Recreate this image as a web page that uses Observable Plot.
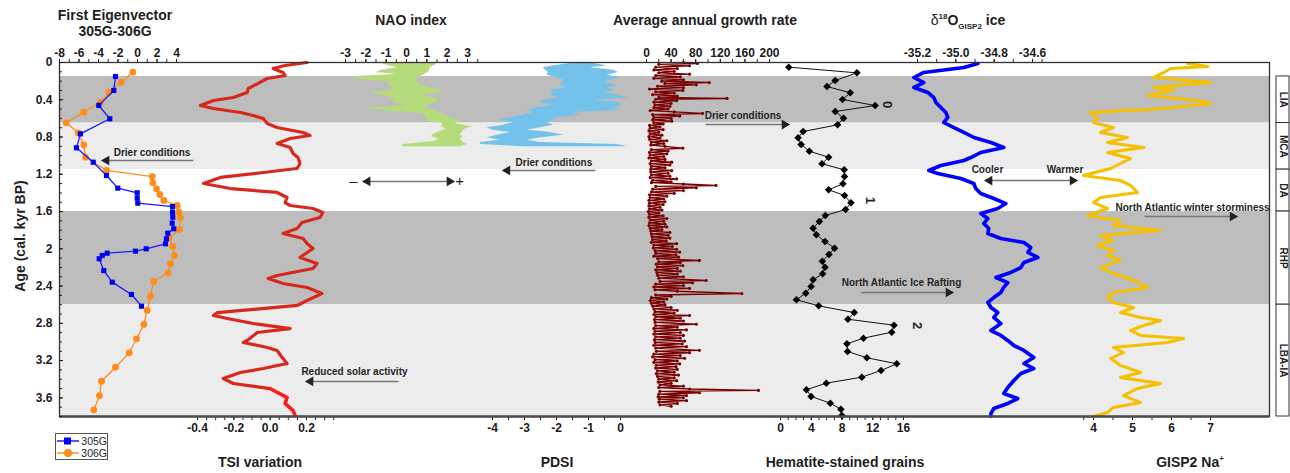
<!DOCTYPE html>
<html lang="en">
<head>
<meta charset="utf-8">
<title>Proxy records, 0–3.8 cal. kyr BP</title>
<script src="https://cdn.jsdelivr.net/npm/d3@7"></script>
<script src="https://cdn.jsdelivr.net/npm/@observablehq/plot@0.6"></script>
<style>
  html, body { margin: 0; background: #fff; }
  #stage { position: relative; width: 1290px; height: 473px; overflow: hidden;
           font-family: "Liberation Sans", Arial, sans-serif; color: #1e1e1e; }
  #stage > svg { position: absolute; left: 0; top: 0; }
  .ttl { position: absolute; transform: translate(-50%, -50%); font-weight: bold; font-size: 14px;
         line-height: 16px; white-space: nowrap; text-align: center; }
  .ttl sup, .ttl sub { font-size: 8px; line-height: 0; }
  .ttl .reg { font-weight: normal; }
  #ylab { position: absolute; left: 20px; top: 236px; transform: translate(-50%, -50%) rotate(-90deg);
          font-weight: bold; font-size: 14px; white-space: nowrap; }
  #legend { position: absolute; left: 55px; top: 433px; width: 53px; height: 27px; border: 1px solid #555;
            box-sizing: border-box; font-size: 10.5px; padding-top: 1px; }
  #legend div { display: flex; align-items: center; height: 12px; }
  #legend svg { margin-right: 2px; }
</style>
</head>
<body>
<div id="stage">
  <div class="ttl" style="left:115px;top:23px">First Eigenvector<br>305G-306G</div>
  <div class="ttl" style="left:411px;top:20px">NAO index</div>
  <div class="ttl" style="left:705px;top:20px">Average annual growth rate</div>
  <div class="ttl" style="left:968px;top:20px"><span class="reg">δ</span><sup>18</sup>O<sub>GISP2</sub> ice</div>
  <div class="ttl" style="left:260px;top:462px">TSI variation</div>
  <div class="ttl" style="left:557px;top:462px">PDSI</div>
  <div class="ttl" style="left:845px;top:462px">Hematite-stained grains</div>
  <div class="ttl" style="left:1190px;top:462px">GISP2 Na<sup>+</sup></div>
  <div id="ylab">Age (cal. kyr BP)</div>
  <div id="legend">
    <div><svg width="24" height="10"><line x1="1" y1="5" x2="23" y2="5" stroke="#1a1aff" stroke-width="1.5"/><rect x="8" y="1.5" width="7" height="7" fill="#0000ee"/></svg><span>305G</span></div>
    <div><svg width="24" height="10"><line x1="1" y1="5" x2="23" y2="5" stroke="#ff8c1a" stroke-width="1.5"/><circle cx="12" cy="5" r="4" fill="#ff8c1a"/></svg><span>306G</span></div>
  </div>
</div>
<script>
// ---------- climate periods ----------
const periodName  = ["LIA", "MCA", "DA", "RHP", "LBA-IA"];
const periodStart = [0.15, 0.65, 1.15, 1.6, 2.6];
const periodEnd   = [0.65, 1.15, 1.6, 2.6, 3.8];

// ---------- first eigenvector, cores 305G and 306G ----------
const e305Age   = [0.15, 0.30, 0.46, 0.604, 0.766, 0.916, 1.070, 1.213, 1.349, 1.399, 1.456, 1.510, 1.546, 1.607, 1.660, 1.725, 1.785, 1.832, 1.893, 1.946, 2.0, 2.025, 2.047, 2.072, 2.107, 2.233, 2.358, 2.490, 2.616];
const e305Value = [-2.26, -2.43, -3.97, -2.84, -5.85, -6.26, -4.54, -3.18, -2.02, -0.03, -0.03, 0.03, 3.59, 3.59, 3.62, 3.56, 3.72, 3.11, 2.97, 2.87, 0.89, -0.21, -3.11, -3.62, -3.93, -3.46, -2.59, -0.62, 0.41];
const e306Age   = [0.104, 0.211, 0.319, 0.426, 0.533, 0.648, 0.755, 0.884, 1.016, 1.159, 1.224, 1.292, 1.356, 1.417, 1.481, 1.535, 1.607, 1.667, 1.793, 1.886, 1.975, 2.072, 2.161, 2.258, 2.351, 2.508, 2.662, 2.812, 2.966, 3.116, 3.271, 3.421, 3.575, 3.728];
const e306Value = [-0.48, -1.67, -2.94, -3.79, -5.51, -7.31, -6.08, -5.51, -5.33, -3.18, 1.51, 1.57, 1.95, 2.29, 2.7, 4.07, 4.24, 4.41, 4.31, 3.21, 3.62, 3.79, 3.38, 3.15, 1.67, 1.33, 0.99, 0.65, -0.1, -0.85, -2.26, -3.69, -3.9, -4.48];

// ---------- total solar irradiance variation ----------
const tsiAge   = [0, 0.032, 0.064, 0.107, 0.14, 0.172, 0.225, 0.279, 0.322, 0.376, 0.408, 0.462, 0.494, 0.537, 0.569, 0.601, 0.655, 0.698, 0.751, 0.784, 0.816, 0.869, 0.912, 0.977, 1.02, 1.084, 1.138, 1.181, 1.234, 1.299, 1.353, 1.395, 1.449, 1.503, 1.535, 1.567, 1.61, 1.664, 1.718, 1.782, 1.836, 1.889, 1.943, 1.997, 2.093, 2.158, 2.211, 2.286, 2.319, 2.372, 2.415, 2.48, 2.555, 2.608, 2.684, 2.716, 2.748, 2.802, 2.856, 2.898, 2.984, 3.006, 3.059, 3.091, 3.167, 3.231, 3.285, 3.328, 3.392, 3.446, 3.5, 3.596, 3.66, 3.735, 3.789];
const tsiValue = [0.203, 0.082, 0.016, 0.071, 0.082, -0.016, -0.066, -0.121, -0.126, -0.203, -0.312, -0.384, -0.312, -0.164, -0.093, -0.038, -0.016, 0.038, 0.181, 0.219, 0.11, 0.038, 0.11, 0.126, 0.153, 0.164, 0.148, -0.038, -0.274, -0.367, -0.219, 0.038, 0.093, 0.082, 0.11, 0.236, 0.29, 0.274, 0.175, 0.148, 0.071, 0.181, 0.203, 0.236, 0.164, 0.258, 0.236, 0.038, -0.011, 0.071, 0.203, 0.285, 0.203, 0.148, -0.29, -0.312, -0.236, -0.093, 0.11, -0.071, -0.126, -0.148, -0.016, 0.038, 0.066, 0.093, -0.038, -0.164, -0.258, -0.203, 0, 0.093, 0.082, 0.126, 0.137];

// ---------- NAO index reconstruction (range) ----------
const naoAge  = [0, 0.029, 0.057, 0.083, 0.107, 0.129, 0.154, 0.179, 0.207, 0.236, 0.272, 0.297, 0.322, 0.351, 0.379, 0.405, 0.429, 0.458, 0.494, 0.523, 0.547, 0.572, 0.601, 0.63, 0.655, 0.69, 0.716, 0.744, 0.773, 0.798, 0.823, 0.851, 0.88, 0.905];
const naoLow  = [-1.32, -0.99, -0.43, -1.23, -1.47, -0.49, -2.70, -2.30, -0.82, -0.92, -0.67, -0.82, -1.81, -1.17, -0.74, -0.58, -0.67, 0, -2.03, -0.82, 0.80, 0.90, 0.98, 1.05, 1.79, 1.72, 1.95, 1.64, 1.30, 1.23, 1.64, 1.30, -0.18, -0.18];
const naoHigh = [1.49, 1.40, 1.15, 1.15, 1.05, 0.90, 0.65, 0.49, 0.55, 0.65, 1.23, 1.72, 1.64, 0.80, 1.29, 1.64, 1.49, 1.05, 0.98, 1.54, 1.78, 1.95, 2.18, 2.77, 2.36, 3.20, 2.86, 2.77, 2.63, 2.77, 2.63, 2.77, 3.02, 2.63];

// ---------- Palmer drought severity index (range) ----------
const pdsiAge  = [0, 0.011, 0.035, 0.057, 0.083, 0.107, 0.136, 0.164, 0.19, 0.215, 0.244, 0.272, 0.297, 0.322, 0.351, 0.379, 0.405, 0.429, 0.458, 0.486, 0.512, 0.537, 0.566, 0.594, 0.619, 0.644, 0.673, 0.701, 0.727, 0.751, 0.78, 0.808, 0.834, 0.859, 0.88, 0.905];
const pdsiLow  = [-1.35, -1.56, -2.09, -2.42, -2.34, -2.25, -2.29, -1.98, -1.78, -1.82, -1.88, -1.67, -2.19, -2.09, -2.19, -1.88, -2.41, -2.5, -2.09, -2.6, -2.92, -2.72, -3.03, -3.44, -3.85, -3.34, -3.66, -4.17, -3.97, -3.44, -3.85, -4.17, -3.75, -4.38, -4.38, -2.92];
const pdsiHigh = [-0.52, -0.84, -0.42, -0.94, -0.22, -0.06, -0.42, 0, -0.31, -0.52, -0.10, -0.42, -0.16, -0.52, -0.10, 0.25, -0.84, -0.10, 0.05, -0.22, 0, -1.47, -1.25, -1.98, -2.09, -2.29, -2.09, -2.5, -2.92, -2.19, -1.78, -2.5, -2.92, -2.5, -0.10, 0.21];

// ---------- stalagmite average annual growth rate ----------
const growthAge = [0.0, 0.01, 0.02, 0.035, 0.05, 0.065, 0.08, 0.095, 0.11, 0.125, 0.14, 0.155, 0.17, 0.185, 0.2, 0.215, 0.225, 0.24, 0.255, 0.27, 0.285, 0.3, 0.315, 0.33, 0.345, 0.36, 0.375, 0.386, 0.395, 0.41, 0.425, 0.44, 0.455, 0.47, 0.485, 0.5, 0.515, 0.53, 0.547, 0.56, 0.575, 0.59, 0.6, 0.615, 0.63, 0.645, 0.66, 0.675, 0.69, 0.705, 0.72, 0.735, 0.75, 0.765, 0.78, 0.795, 0.81, 0.825, 0.84, 0.855, 0.87, 0.885, 0.9, 0.92, 0.935, 0.95, 0.965, 0.98, 0.995, 1.01, 1.025, 1.04, 1.055, 1.07, 1.085, 1.1, 1.115, 1.13, 1.145, 1.16, 1.175, 1.19, 1.205, 1.22, 1.235, 1.25, 1.265, 1.28, 1.29, 1.305, 1.32, 1.33, 1.345, 1.36, 1.375, 1.39, 1.405, 1.42, 1.435, 1.45, 1.465, 1.48, 1.495, 1.51, 1.525, 1.54, 1.555, 1.57, 1.585, 1.6, 1.615, 1.63, 1.645, 1.66, 1.675, 1.69, 1.705, 1.72, 1.735, 1.75, 1.765, 1.78, 1.795, 1.81, 1.825, 1.84, 1.855, 1.87, 1.885, 1.9, 1.915, 1.93, 1.945, 1.96, 1.975, 1.99, 2.005, 2.02, 2.035, 2.05, 2.065, 2.08, 2.09, 2.105, 2.125, 2.14, 2.15, 2.165, 2.18, 2.195, 2.21, 2.225, 2.24, 2.255, 2.27, 2.285, 2.3, 2.315, 2.34, 2.35, 2.365, 2.38, 2.395, 2.41, 2.425, 2.44, 2.455, 2.48, 2.495, 2.51, 2.525, 2.54, 2.555, 2.57, 2.585, 2.6, 2.615, 2.63, 2.645, 2.66, 2.675, 2.69, 2.705, 2.716, 2.73, 2.745, 2.76, 2.775, 2.79, 2.81, 2.825, 2.84, 2.855, 2.87, 2.885, 2.9, 2.915, 2.93, 2.945, 2.96, 2.975, 2.99, 3.005, 3.02, 3.035, 3.05, 3.065, 3.09, 3.1, 3.115, 3.13, 3.145, 3.16, 3.175, 3.19, 3.205, 3.22, 3.235, 3.25, 3.265, 3.28, 3.295, 3.31, 3.325, 3.34, 3.355, 3.37, 3.385, 3.4, 3.415, 3.43, 3.445, 3.46, 3.475, 3.49, 3.505, 3.52, 3.53, 3.545, 3.56, 3.575, 3.59, 3.6, 3.615, 3.63, 3.645, 3.66, 3.675, 3.69];
const growthRate = [60, 83, 20, 70, 15, 50, 12, 45, 20, 70, 15, 55, 12, 60, 25, 102, 30, 81, 18, 60, 5, 59, 15, 45, 10, 50, 20, 131, 15, 49, 12, 40, 14, 38, 12, 35, 6, 45, 91, 10, 54, 12, 40, 10, 41, 12, 27, 5, 22, 6, 27, 4, 20, 6, 25, 4, 22, 5, 33, 8, 28, 7, 30, 59, 8, 35, 5, 33, 6, 28, 4, 30, 8, 41, 6, 38, 8, 30, 7, 41, 7, 35, 8, 38, 6, 49, 10, 40, 8, 60, 113, 15, 81, 10, 60, 8, 45, 5, 33, 6, 28, 4, 30, 5, 27, 4, 22, 5, 25, 3, 20, 5, 27, 4, 33, 6, 28, 5, 30, 4, 33, 6, 25, 7, 38, 8, 35, 9, 38, 10, 32, 8, 49, 12, 42, 11, 49, 14, 54, 15, 48, 12, 52, 18, 86, 20, 55, 16, 59, 18, 50, 15, 55, 17, 50, 18, 60, 20, 97, 22, 75, 15, 60, 12, 70, 14, 50, 155, 15, 40, 8, 33, 6, 28, 8, 30, 10, 40, 12, 50, 14, 45, 12, 70, 15, 55, 13, 60, 14, 81, 15, 50, 12, 65, 14, 55, 12, 60, 15, 55, 13, 62, 14, 58, 12, 65, 15, 86, 16, 70, 12, 55, 10, 62, 14, 50, 12, 54, 16, 48, 15, 50, 18, 45, 16, 52, 18, 45, 20, 49, 19, 40, 22, 60, 20, 70, 182, 22, 86, 20, 65, 19, 60, 21, 65, 20, 50, 22, 40];

// ---------- hematite-stained grains (%) ----------
const hemAge   = [0.05, 0.111, 0.193, 0.258, 0.325, 0.397, 0.462, 0.526, 0.598, 0.669, 0.741, 0.808, 0.88, 0.952, 1.017, 1.087, 1.152, 1.224, 1.302, 1.366, 1.428, 1.506, 1.578, 1.642, 1.707, 1.779, 1.85, 1.921, 1.993, 2.061, 2.133, 2.197, 2.268, 2.333, 2.404, 2.476, 2.547, 2.612, 2.684, 2.756, 2.82, 2.895, 2.959, 3.02, 3.102, 3.17, 3.234, 3.306, 3.378, 3.442, 3.513, 3.585, 3.657, 3.722, 3.789];
const hemCount = [1.08, 9.94, 7.12, 6.05, 9.07, 8.07, 12.31, 7.12, 8.2, 7.42, 2.94, 2.29, 2.68, 3.76, 6.26, 5.4, 8.29, 8.33, 8.12, 6.26, 8.33, 9.16, 8.46, 5.83, 5.05, 4.24, 4.66, 5.79, 7.03, 6.31, 5.44, 5.79, 5.48, 4.24, 3.98, 3.28, 2.07, 4.96, 9.59, 8.77, 14.77, 14.47, 10.79, 8.64, 8.72, 11.23, 15.12, 13.08, 10.58, 5.96, 3.37, 3.98, 6.48, 7.86, 7.99];
const bondLabel = ["0", "1", "2"];
const bondAge   = [0.451, 1.481, 2.823];
const bondAt    = [13.9, 11.7, 17.8];

// ---------- GISP2 delta-18O of ice ----------
const d18Age   = [0.011, 0.054, 0.107, 0.161, 0.215, 0.268, 0.322, 0.376, 0.429, 0.483, 0.537, 0.590, 0.644, 0.698, 0.751, 0.805, 0.859, 0.912, 0.966, 1.020, 1.052, 1.106, 1.159, 1.191, 1.245, 1.299, 1.353, 1.406, 1.460, 1.514, 1.567, 1.621, 1.675, 1.728, 1.782, 1.836, 1.889, 1.932, 1.986, 2.039, 2.093, 2.147, 2.201, 2.254, 2.308, 2.362, 2.415, 2.469, 2.523, 2.576, 2.630, 2.684, 2.737, 2.802, 2.877, 2.930, 2.984, 3.038, 3.091, 3.167, 3.231, 3.285, 3.339, 3.414, 3.489, 3.553, 3.607, 3.660, 3.714, 3.768, 3.8];
const d18Value = [-34.885, -34.958, -35.167, -35.219, -35.167, -35.219, -35.146, -35.115, -35.104, -35.078, -35.052, -35.042, -35.063, -35.010, -34.958, -34.906, -34.817, -34.750, -34.870, -34.922, -34.958, -35.078, -35.141, -35.094, -34.974, -34.906, -34.896, -34.870, -34.802, -34.739, -34.781, -34.870, -34.833, -34.854, -34.828, -34.833, -34.765, -34.645, -34.609, -34.624, -34.572, -34.645, -34.661, -34.713, -34.791, -34.729, -34.750, -34.765, -34.802, -34.833, -34.817, -34.781, -34.802, -34.765, -34.817, -34.765, -34.729, -34.697, -34.645, -34.593, -34.645, -34.593, -34.661, -34.697, -34.729, -34.750, -34.677, -34.729, -34.802, -34.817, -34.817];

// ---------- GISP2 sea-salt Na+ ----------
const naAge   = [0.011, 0.043, 0.064, 0.107, 0.161, 0.215, 0.268, 0.301, 0.354, 0.408, 0.440, 0.494, 0.537, 0.590, 0.644, 0.698, 0.751, 0.805, 0.859, 0.912, 0.966, 1.031, 1.084, 1.138, 1.213, 1.267, 1.320, 1.395, 1.449, 1.503, 1.567, 1.642, 1.696, 1.750, 1.803, 1.857, 1.911, 1.964, 2.018, 2.072, 2.125, 2.201, 2.265, 2.340, 2.415, 2.469, 2.523, 2.576, 2.630, 2.684, 2.737, 2.769, 2.823, 2.877, 2.930, 2.963, 3.006, 3.059, 3.113, 3.177, 3.252, 3.328, 3.381, 3.446, 3.499, 3.575, 3.650, 3.703, 3.757, 3.8];
const naValue = [6.42, 6.93, 5.98, 5.80, 5.54, 7.01, 5.54, 6.06, 5.39, 6.67, 7.01, 5.80, 3.92, 4.10, 4.00, 4.51, 4.18, 4.87, 4.36, 5.29, 4.36, 4.95, 4.69, 4.44, 3.74, 4.69, 4.95, 5.13, 4.18, 4.00, 4.36, 3.85, 4.69, 4.51, 5.72, 4.18, 4.51, 4.10, 4.51, 4.36, 4.69, 4.18, 4.51, 5.03, 5.39, 4.51, 4.36, 4.51, 5.03, 4.69, 5.21, 5.72, 5.29, 4.95, 5.21, 6.31, 5.90, 4.51, 4.77, 4.44, 4.69, 5.21, 4.69, 5.72, 5.13, 4.77, 5.21, 4.51, 4.36, 4.00];

// ---------- axis tick labels ----------
const ageTicks    = [0, 0.4, 0.8, 1.2, 1.6, 2, 2.4, 2.8, 3.2, 3.6];
const eigTicks    = [-8, -6, -4, -2, 0, 2, 4];
const tsiTicks    = [-0.4, -0.2, 0, 0.2];
const naoTicks    = [-3, -2, -1, 0, 1, 2, 3];
const pdsiTicks   = [-4, -3, -2, -1, 0];
const growthTicks = [0, 40, 80, 120, 160, 200];
const hemTicks    = [0, 4, 8, 12, 16];
const d18Ticks    = [-35.2, -35.0, -34.8, -34.6];
const naTicks     = [4, 5, 6, 7];

// ---------- annotations (in each panel's own units) ----------
const notes = [
  {panel: "eig",    text: "Drier conditions",                 at: 1.49,    age: 0.966},
  {panel: "tsi",    text: "Reduced solar activity",           at: 0.464,   age: 3.317},
  {panel: "pdsi",   text: "Drier conditions",                 at: -2.08,   age: 1.073},
  {panel: "growth", text: "Drier conditions",                 at: 157,     age: 0.569},
  {panel: "hem",    text: "North Atlantic Ice Rafting",       at: 15.74,   age: 2.362},
  {panel: "d18",    text: "Cooler",                           at: -34.835, age: 1.149},
  {panel: "d18",    text: "Warmer",                           at: -34.43,  age: 1.149},
  {panel: "na",     text: "North Atlantic winter storminess", at: 6.54,    age: 1.556}
];
const arrows = [
  {panel: "eig",    from: 5.74,    to: -3.59,  age: 1.052, both: false},
  {panel: "tsi",    from: 0.706,   to: 0.2,    age: 3.424, both: false},
  {panel: "nao",    from: -2.11,   to: 2.31,   age: 1.277, both: true},
  {panel: "pdsi",   from: -0.78,   to: -3.66,  age: 1.159, both: false},
  {panel: "growth", from: 96,      to: 231,    age: 0.666, both: false},
  {panel: "hem",    from: 10.54,   to: 22.37,  age: 2.469, both: false},
  {panel: "d18",    from: -34.845, to: -34.37, age: 1.267, both: true},
  {panel: "na",     from: 5.31,    to: 7.67,   age: 1.653, both: false}
];
const naoSign   = ["\u2013", "+"];
const naoSignAt = [-2.61, 2.61];

// ---------- helpers ----------
const stage = document.getElementById("stage");
const FONT = "'Liberation Sans', Arial, sans-serif";
const pairs = (ages, vals) => ages.map((age, i) => ({age, v: vals[i]}));
const band = (ages, lo, hi) => ages.map((age, i) => ({age, lo: lo[i], hi: hi[i]}));
const oneDecimal = d => d.toFixed(1);
const plain = d => String(d);
const steps = (a, b, s) => d3.range(Math.round((b - a) / s) + 1).map(i => +(a + i * s).toFixed(4));

function layer(opts) {
  const svg = Plot.plot({
    width: 1290, height: 473,
    marginTop: 62, marginBottom: 57, marginLeft: 59, marginRight: 21,
    style: {background: "transparent", fontFamily: FONT, overflow: "visible"},
    ...opts,
    y: {domain: [0, 3.8], range: [62, 416], axis: null}
  });
  stage.appendChild(svg);
}

function annotations(key) {
  const ns = notes.filter(d => d.panel === key);
  const as = arrows.filter(d => d.panel === key);
  const heads = [];
  for (const a of as) {
    const dir = Math.sign(a.to - a.from);
    heads.push({at: a.to, age: a.age, dir});
    if (a.both) heads.push({at: a.from, age: a.age, dir: -dir});
  }
  return [
    Plot.link(as, {x1: "from", x2: "to", y1: "age", y2: "age", stroke: "#777", strokeWidth: 1.6}),
    Plot.dot(heads.filter(h => h.dir > 0), {x: "at", y: "age", symbol: "triangle", rotate: 90, r: 3.6, fill: "#222", dx: -4}),
    Plot.dot(heads.filter(h => h.dir < 0), {x: "at", y: "age", symbol: "triangle", rotate: -90, r: 3.6, fill: "#222", dx: 4}),
    Plot.text(ns, {x: "at", y: "age", text: "text", fontSize: 10, fontWeight: "bold", fill: "#262626"})
  ];
}

function panel({key, domain, range, anchor, ticks, minor, format, marks}) {
  layer({
    x: {domain, range},
    marks: [
      Plot.axisX({anchor, ticks: minor, tickSize: 4, tickFormat: () => "", label: null, color: "#222"}),
      Plot.axisX({anchor, ticks, tickSize: 4, tickPadding: anchor === "top" ? 2 : 3, tickFormat: format,
                  label: null, color: "#1a1a1a", fontSize: 12, fontWeight: "bold"}),
      ...marks,
      ...annotations(key)
    ]
  });
}

// ---------- background period bands ----------
const periods = periodName.map((name, i) => ({name, start: periodStart[i], end: periodEnd[i]}));
layer({
  color: {domain: periodName, range: ["#bdbdbd", "#ececec", "#ffffff", "#bdbdbd", "#ececec"]},
  marks: [Plot.rect(periods, {y1: "start", y2: "end", fill: "name"})]
});

// ---------- first eigenvector ----------
const e305 = pairs(e305Age, e305Value), e306 = pairs(e306Age, e306Value);
panel({
  key: "eig", domain: [-8, 4], range: [59, 176], anchor: "top",
  ticks: eigTicks, minor: steps(-8, 4, 1), format: plain,
  marks: [
    Plot.line(e306, {x: "v", y: "age", stroke: "#ff8c1a", strokeWidth: 1.3}),
    Plot.dot(e306, {x: "v", y: "age", r: 3.4, fill: "#ff8c1a"}),
    Plot.line(e305, {x: "v", y: "age", stroke: "#1a1aff", strokeWidth: 1.3}),
    Plot.dot(e305, {x: "v", y: "age", symbol: "square", r: 2.9, fill: "#0000ee"})
  ]
});

// ---------- TSI ----------
const tsi = pairs(tsiAge, tsiValue);
panel({
  key: "tsi", domain: [-0.4, 0.2], range: [197, 306], anchor: "bottom",
  ticks: tsiTicks, minor: steps(-0.4, 0.35, 0.05), format: oneDecimal,
  marks: [
    Plot.line(tsi, {x: "v", y: "age", stroke: "#d8281c", strokeWidth: 3.2, strokeLinejoin: "round"}),
    Plot.line(tsi.filter(d => d.age >= 3.5), {x: "v", y: "age", stroke: "#ff1a1a", strokeWidth: 3.2, strokeLinejoin: "round"})
  ]
});

// ---------- NAO ----------
panel({
  key: "nao", domain: [-3, 3], range: [345, 467], anchor: "top",
  ticks: naoTicks, minor: steps(-3, 3.5, 0.5), format: plain,
  marks: [
    Plot.areaX(band(naoAge, naoLow, naoHigh), {x1: "lo", x2: "hi", y: "age", fill: "#b5db7b"}),
    Plot.text(naoSign, {x: (d, i) => naoSignAt[i], y: () => 1.277, text: d => d, fontSize: 15, fill: "#222"})
  ]
});

// ---------- PDSI ----------
panel({
  key: "pdsi", domain: [-4, 0], range: [492, 620], anchor: "bottom",
  ticks: pdsiTicks, minor: steps(-4, 0, 0.5), format: plain,
  marks: [
    Plot.areaX(band(pdsiAge, pdsiLow, pdsiHigh), {x1: "lo", x2: "hi", y: "age", fill: "#72c2ec"})
  ]
});

// ---------- growth rate ----------
const growth = pairs(growthAge, growthRate);
panel({
  key: "growth", domain: [0, 200], range: [646, 769], anchor: "top",
  ticks: growthTicks, minor: steps(0, 200, 20), format: plain,
  marks: [
    Plot.line(growth, {x: "v", y: "age", stroke: "#7a0000", strokeWidth: 1.4}),
    Plot.dot(growth, {x: "v", y: "age", r: 1.6, fill: "#7a0000"})
  ]
});

// ---------- hematite-stained grains ----------
const hem = pairs(hemAge, hemCount);
panel({
  key: "hem", domain: [0, 16], range: [780, 903], anchor: "bottom",
  ticks: hemTicks, minor: steps(0, 16, 1), format: plain,
  marks: [
    Plot.line(hem, {x: "v", y: "age", stroke: "#111", strokeWidth: 1}),
    Plot.dot(hem, {x: "v", y: "age", symbol: "diamond2", r: 3.4, fill: "#000"}),
    Plot.text(bondLabel, {x: (d, i) => bondAt[i], y: (d, i) => bondAge[i], text: d => d, rotate: 90,
                          fontSize: 13, fontWeight: "bold", fill: "#222"})
  ]
});

// ---------- delta-18O ----------
panel({
  key: "d18", domain: [-35.2, -34.6], range: [917, 1032], anchor: "top",
  ticks: d18Ticks, minor: steps(-35.2, -34.6, 0.1).concat([-34.55]), format: oneDecimal,
  marks: [
    Plot.line(pairs(d18Age, d18Value), {x: "v", y: "age", stroke: "#0000ff", strokeWidth: 3.6, strokeLinejoin: "round"})
  ]
});

// ---------- Na+ ----------
panel({
  key: "na", domain: [4, 7], range: [1093, 1210], anchor: "bottom",
  ticks: naTicks, minor: [3.75].concat(steps(4, 7, 0.5)), format: plain,
  marks: [
    Plot.line(pairs(naAge, naValue), {x: "v", y: "age", stroke: "#f5c000", strokeWidth: 3, strokeLinejoin: "round"})
  ]
});

// ---------- frame and age axis ----------
layer({
  marks: [
    Plot.frame({stroke: "#333", strokeWidth: 1.3}),
    Plot.ruleY([3.8], {stroke: "#4d4d4d", strokeWidth: 2.6}),
    Plot.axisY({anchor: "left", ticks: steps(0, 3.8, 0.1), tickSize: -3, tickFormat: () => "", label: null, color: "#222"}),
    Plot.axisY({anchor: "left", ticks: ageTicks, tickSize: -4, tickPadding: 11, tickFormat: d => String(+d.toFixed(1)),
                label: null, color: "#1a1a1a", fontSize: 12, fontWeight: "bold"})
  ]
});

// ---------- period name boxes ----------
layer({
  x: {domain: [0, 1], range: [1276, 1289], axis: null},
  marks: [
    Plot.rect(periods, {x1: 0, x2: 1, y1: "start", y2: "end", fill: "white", stroke: "#333", strokeWidth: 1}),
    Plot.text(periods, {x: 0.5, y: d => (d.start + d.end) / 2, text: "name", rotate: 90, fontSize: 10, fontWeight: "bold", fill: "#222"})
  ]
});
</script>
</body>
</html>
